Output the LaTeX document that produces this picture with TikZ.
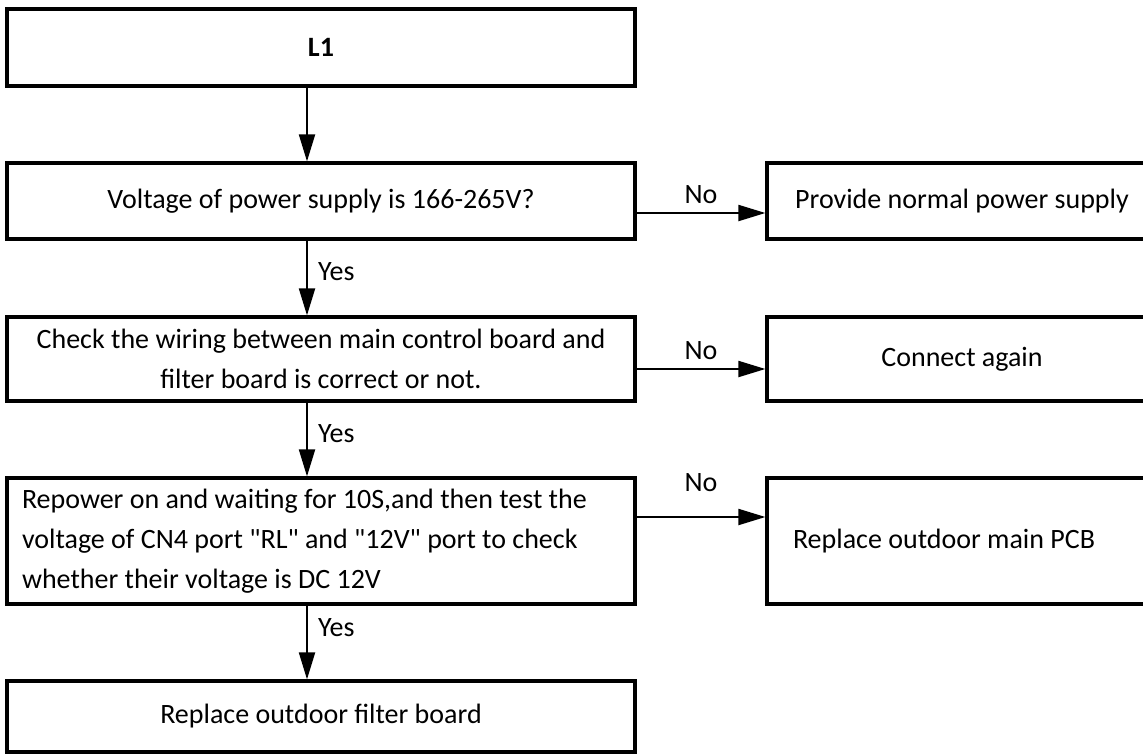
\documentclass[tikz,border=0pt]{standalone}
\usepackage{fontspec}
\setmainfont{Carlito}[Ligatures=TeXOff]
\usetikzlibrary{arrows.meta}

\begin{document}
\begin{tikzpicture}[x=1pt, y=-1pt,
    every node/.style={font=\fontsize{28}{40}\selectfont},
    box/.style={draw, rectangle, line width=3.2pt, inner sep=0pt, align=center},
    flow/.style={line width=2pt, -{Triangle[length=27pt,width=16pt]}},
    lbl/.style={inner sep=0pt}]
    \useasboundingbox (0,0) rectangle (1143,755);
    \clip (0,0) rectangle (1143,755);

    % Left column
    \node[box, minimum width=628pt, minimum height=77pt, font=\fontsize{28}{40}\selectfont\bfseries] (l1) at (321,47.5) {L1};
    \node[box, minimum width=628pt, minimum height=76pt] (volt) at (321,201) {Voltage of power supply is 166-265V?};
    \node[box, minimum width=628pt, minimum height=84pt] (wiring) at (321,359) {Check the wiring between main control board and\\filter board is correct or not.};
    \node[box, text width=598pt, inner xsep=15pt, minimum height=126pt, align=flush left] (repower) at (321,541) {Repower on and waiting for 10S,and then test the\\voltage of CN4 port "RL" and "12V" port to check\\whether their voltage is DC 12V};
    \node[box, minimum width=628pt, minimum height=71pt] (filter) at (321,716.5) {Replace outdoor filter board};

    % Right column
    \node[box, minimum width=390pt, minimum height=76pt] (supply) at (962,201) {Provide normal power supply};
    \node[box, minimum width=390pt, minimum height=84pt] (again) at (962,359) {Connect again};
    \node[box, text width=338pt, inner xsep=26pt, minimum height=126pt, align=flush left] (pcb) at (962,541) {Replace outdoor main PCB};

    % Yes path
    \draw[flow] ([xshift=-14pt]l1.south) -- ([xshift=-14pt]volt.north);
    \draw[flow] ([xshift=-14pt]volt.south) -- node[lbl, pos=.42, anchor=west, xshift=10pt] {Yes} ([xshift=-14pt]wiring.north);
    \draw[flow] ([xshift=-14pt]wiring.south) -- node[lbl, pos=.42, anchor=west, xshift=10pt] {Yes} ([xshift=-14pt]repower.north);
    \draw[flow] ([xshift=-14pt]repower.south) -- node[lbl, pos=.3, anchor=west, xshift=10pt] {Yes} ([xshift=-14pt]filter.north);

    % No branches
    \draw[flow] ([yshift=-12pt]volt.east) -- node[lbl, yshift=18pt] {No} ([yshift=-12pt]supply.west);
    \draw[flow] ([yshift=-10pt]wiring.east) -- node[lbl, yshift=18pt] {No} ([yshift=-10pt]again.west);
    \draw[flow] ([yshift=24pt]repower.east) -- node[lbl, yshift=34pt] {No} ([yshift=24pt]pcb.west);
\end{tikzpicture}
\end{document}
